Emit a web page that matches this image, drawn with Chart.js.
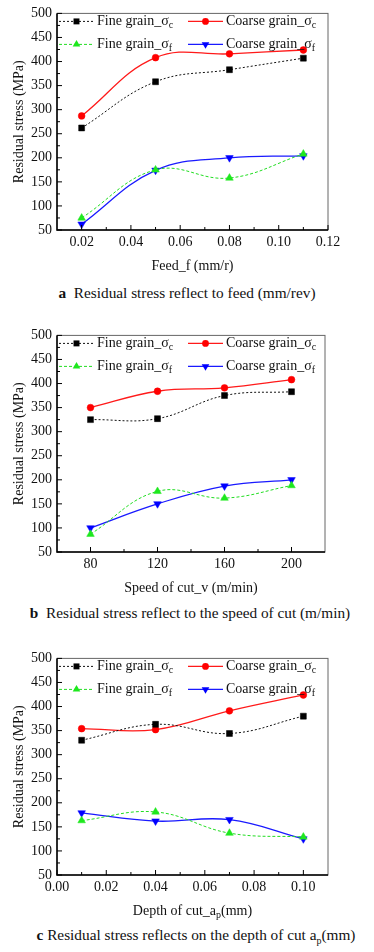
<!DOCTYPE html>
<html>
<head>
<meta charset="utf-8">
<script src="https://cdn.jsdelivr.net/npm/chart.js@4.4.0/dist/chart.umd.min.js"></script>
<style>
  body { margin: 0; background: #fff; width: 374px; height: 952px; position: relative; overflow: hidden;
         font-family: "Liberation Serif", "Times New Roman", serif; }
  canvas { position: absolute; left: 0; }
  .cap { position: absolute; left: 0; width: 374px; text-align: center; font-size: 15.3px; color: #111;
         white-space: nowrap; line-height: 17px; }
  .cap sub { font-size: 10px; }
</style>
</head>
<body>
<canvas id="chartA" width="374" height="280" style="top:0"></canvas>
<div class="cap" style="top:284px"><b>a</b>&nbsp; Residual stress reflect to feed (mm/rev)</div>
<canvas id="chartB" width="374" height="280" style="top:322px"></canvas>
<div class="cap" style="top:604px;left:3px"><b>b</b>&nbsp; Residual stress reflect to the speed of cut (m/min)</div>
<canvas id="chartC" width="374" height="280" style="top:645px"></canvas>
<div class="cap" style="top:926px;left:9px"><b>c</b> Residual stress reflects on the depth of cut a<sub>p</sub>(mm)</div>

<script>
// series names (the subscript letter is kept apart, canvas text has no subscripts)
const seriesNames = ['Fine grain_σ', 'Coarse grain_σ', 'Fine grain_σ', 'Coarse grain_σ'];
const seriesSubs = ['c', 'c', 'f', 'f'];

const stressTicks = [50, 100, 150, 200, 250, 300, 350, 400, 450, 500];

// a - feed
const feedX = [0.02, 0.05, 0.08, 0.11];
const feedFineC = [262, 358, 383, 407];
const feedCoarseC = [287, 408, 416, 424];
const feedFineF = [75, 175, 158, 208];
const feedCoarseF = [62, 174, 200, 204];
const feedTicks = [0.02, 0.04, 0.06, 0.08, 0.10, 0.12];

// b - speed of cut
const speedX = [80, 120, 160, 200];
const speedFineC = [325, 327, 375, 383];
const speedCoarseC = [350, 384, 391, 408];
const speedFineF = [87, 176, 162, 188];
const speedCoarseF = [100, 150, 187, 200];
const speedTicks = [80, 120, 160, 200];

// c - depth of cut
const depthX = [0.01, 0.04, 0.07, 0.10];
const depthFineC = [330, 363, 344, 380];
const depthCoarseC = [354, 352, 391, 424];
const depthFineF = [163, 181, 137, 129];
const depthCoarseF = [179, 162, 165, 125];
const depthTicks = [0, 0.02, 0.04, 0.06, 0.08, 0.10];

const FONT = '"Liberation Serif", "Times New Roman", serif';
const styles = [
  { color: '#111', fill: '#000', dash: [2, 2], width: 1, shape: 'rect', r: 4.2, rot: 0 },
  { color: '#ff1a1a', fill: '#ff0000', dash: [], width: 1.3, shape: 'circle', r: 3.4, rot: 0 },
  { color: '#22dd22', fill: '#1ee81e', dash: [3, 2], width: 1, shape: 'triangle', r: 4.4, rot: 0 },
  { color: '#1a1aff', fill: '#0000ff', dash: [], width: 1.3, shape: 'triangle', r: 4.4, rot: 180 }
];

function makeDatasets(xs, seriesList) {
  return seriesList.map((ys, i) => {
    const s = styles[i];
    return {
      label: seriesNames[i] + seriesSubs[i],
      data: xs.map((x, k) => ({ x: x, y: ys[k] })),
      borderColor: s.color,
      backgroundColor: s.fill,
      pointBackgroundColor: s.fill,
      pointBorderColor: s.fill,
      borderDash: s.dash,
      borderWidth: s.width,
      pointStyle: s.shape,
      pointRotation: s.rot,
      pointRadius: s.r,
      pointBorderWidth: 0.5,
      tension: 0.4
    };
  });
}

function drawMarker(ctx, s, x, y) {
  ctx.beginPath();
  ctx.fillStyle = s.fill;
  if (s.shape === 'rect') {
    const h = s.r * Math.SQRT1_2;
    ctx.rect(x - h, y - h, 2 * h, 2 * h);
  } else if (s.shape === 'circle') {
    ctx.arc(x, y, s.r, 0, Math.PI * 2);
  } else {
    let rad = s.rot * Math.PI / 180;
    for (let k = 0; k < 3; k++) {
      const px = x + Math.sin(rad) * s.r, py = y - Math.cos(rad) * s.r;
      k ? ctx.lineTo(px, py) : ctx.moveTo(px, py);
      rad += Math.PI * 2 / 3;
    }
    ctx.closePath();
  }
  ctx.fill();
}

// text pieces like [['Depth of cut_a'], ['p', true], ['(mm)']]
function drawRich(ctx, parts, x, y, align) {
  const widths = parts.map(p => {
    ctx.font = (p[1] ? 10 : 14) + 'px ' + FONT;
    return ctx.measureText(p[0]).width;
  });
  const total = widths.reduce((a, b) => a + b, 0);
  let cx = align === 'center' ? x - total / 2 : x;
  ctx.textAlign = 'left';
  ctx.textBaseline = 'middle';
  parts.forEach((p, i) => {
    ctx.font = (p[1] ? 10 : 14) + 'px ' + FONT;
    ctx.fillText(p[0], cx, p[1] ? y + 4 : y);
    cx += widths[i];
  });
}

const framePlugin = {
  id: 'frame',
  afterDraw(chart) {
    const { ctx, chartArea: a, scales: { x, y } } = chart;
    const cfg = chart.options.plugins.frame;
    ctx.save();
    // box
    ctx.strokeStyle = '#666';
    ctx.lineWidth = 1;
    ctx.strokeRect(a.left, a.top, a.right - a.left, a.bottom - a.top);
    // axes
    ctx.strokeStyle = '#000';
    ctx.lineWidth = 1.5;
    ctx.beginPath();
    ctx.moveTo(a.left, a.top);
    ctx.lineTo(a.left, a.bottom);
    ctx.lineTo(a.right, a.bottom);
    ctx.stroke();
    // inward ticks, minor ones half way
    ctx.lineWidth = 1;
    ctx.beginPath();
    const xt = x.ticks.map(t => t.value);
    xt.forEach((v, i) => {
      const px = x.getPixelForValue(v);
      ctx.moveTo(px, a.bottom); ctx.lineTo(px, a.bottom - 5);
      if (i > 0) {
        const mx = x.getPixelForValue((v + xt[i - 1]) / 2);
        ctx.moveTo(mx, a.bottom); ctx.lineTo(mx, a.bottom - 3);
      }
    });
    const yt = y.ticks.map(t => t.value);
    yt.forEach((v, i) => {
      const py = y.getPixelForValue(v);
      ctx.moveTo(a.left, py); ctx.lineTo(a.left + 5, py);
      if (i > 0) {
        const my = y.getPixelForValue((v + yt[i - 1]) / 2);
        ctx.moveTo(a.left, my); ctx.lineTo(a.left + 3, my);
      }
    });
    ctx.stroke();

    // legend, two columns
    ctx.fillStyle = '#111';
    styles.forEach((s, i) => {
      const col = i % 2, row = Math.floor(i / 2);
      const lx = a.left + (col ? 131 : 2);
      const ly = a.top + (row ? 31 : 8);
      ctx.save();
      ctx.strokeStyle = s.color;
      ctx.lineWidth = s.width;
      ctx.setLineDash(s.dash);
      ctx.beginPath();
      ctx.moveTo(lx, ly); ctx.lineTo(lx + 35, ly);
      ctx.stroke();
      ctx.restore();
      drawMarker(ctx, s, lx + 17.5, ly);
      ctx.fillStyle = '#111';
      drawRich(ctx, [[seriesNames[i]], [seriesSubs[i], true]], lx + 38, ly, 'left');
    });

    // axis titles
    ctx.fillStyle = '#111';
    drawRich(ctx, cfg.xTitle, (a.left + a.right) / 2, 266, 'center');
    ctx.translate(19, (a.top + a.bottom) / 2);
    ctx.rotate(-Math.PI / 2);
    drawRich(ctx, [['Residual stress (MPa)']], 0, 0, 'center');
    ctx.restore();
  }
};

function makeChart(id, xs, seriesList, xTicks, xMin, xMax, decimals, right, xTitle) {
  new Chart(document.getElementById(id), {
    type: 'line',
    data: { datasets: makeDatasets(xs, seriesList) },
    options: {
      responsive: false,
      animation: false,
      layout: { padding: { top: 13, right: 374 - right, left: 0, bottom: 0 } },
      plugins: { legend: { display: false }, tooltip: { enabled: false }, frame: { xTitle: xTitle } },
      scales: {
        x: {
          type: 'linear', min: xMin, max: xMax,
          afterBuildTicks: s => { s.ticks = xTicks.map(v => ({ value: v })); },
          afterFit: s => { s.height = 50; },
          grid: { display: false, drawTicks: false },
          border: { display: false },
          ticks: { autoSkip: false, maxRotation: 0, padding: 4, color: '#111',
                   font: { family: FONT, size: 14 }, callback: v => Number(v).toFixed(decimals) }
        },
        y: {
          min: 50, max: 500,
          afterBuildTicks: s => { s.ticks = stressTicks.map(v => ({ value: v })); },
          afterFit: s => { s.width = 57; },
          grid: { display: false, drawTicks: false },
          border: { display: false },
          ticks: { padding: 5, color: '#111', font: { family: FONT, size: 14 } }
        }
      }
    },
    plugins: [framePlugin]
  });
}

makeChart('chartA', feedX, [feedFineC, feedCoarseC, feedFineF, feedCoarseF],
  feedTicks, 0.01, 0.12, 2, 328, [['Feed_f (mm/r)']]);
makeChart('chartB', speedX, [speedFineC, speedCoarseC, speedFineF, speedCoarseF],
  speedTicks, 60, 220, 0, 325, [['Speed of cut_v (m/min)']]);
makeChart('chartC', depthX, [depthFineC, depthCoarseC, depthFineF, depthCoarseF],
  depthTicks, 0, 0.11, 2, 328, [['Depth of cut_a'], ['p', true], ['(mm)']]);
</script>
</body>
</html>
